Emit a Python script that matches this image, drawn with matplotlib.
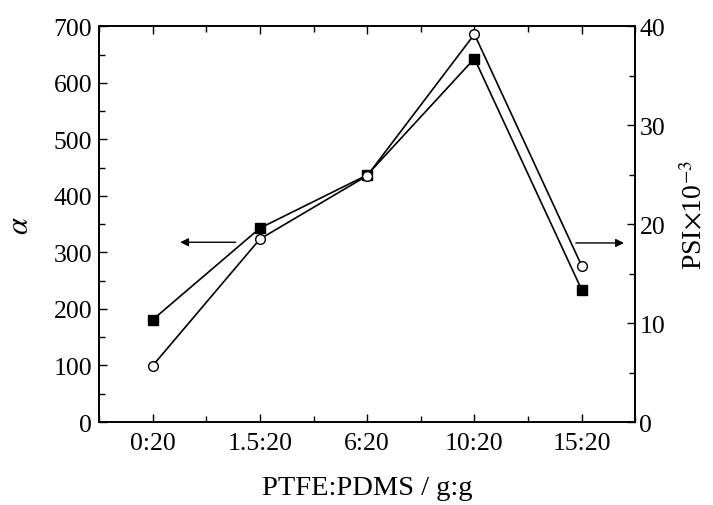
import numpy as np
import matplotlib.pyplot as plt
from matplotlib.ticker import MultipleLocator

plt.rcParams['font.family'] = ['Liberation Serif', 'DejaVu Serif']
plt.rcParams['mathtext.fontset'] = 'stix'

# PTFE:PDMS ratios, separation factor and pervaporation separation index
ratios = ['0:20', '1.5:20', '6:20', '10:20', '15:20']
alpha = [181, 343, 437, 643, 234]
psi = [5.7, 18.5, 24.9, 39.2, 15.8]

x = np.arange(len(ratios))

fig = plt.figure(figsize=(7.13, 5.06), dpi=100)
ax = fig.add_axes([0.139, 0.164, 0.752, 0.782])
ax2 = ax.twinx()

ax.plot(x, alpha, color='black', lw=1.2, marker='s', ms=7,
        mfc='black', mec='black', zorder=3)
ax2.plot(x, psi, color='black', lw=1.2, marker='o', ms=7,
         mfc='white', mec='black', mew=1.0, zorder=3)

ax.set_xlim(-0.5, 4.5)
ax.set_ylim(0, 700)
ax2.set_ylim(0, 40)

ax.set_xticks(x)
ax.set_xticklabels(ratios)
ax.xaxis.set_minor_locator(MultipleLocator(0.5))
ax.yaxis.set_major_locator(MultipleLocator(100))
ax.yaxis.set_minor_locator(MultipleLocator(50))
ax2.yaxis.set_major_locator(MultipleLocator(10))
ax2.yaxis.set_minor_locator(MultipleLocator(5))

fs = 18.5
ax.tick_params(axis='x', which='both', direction='in', top=True, labelsize=fs, pad=7)
ax.tick_params(axis='y', which='both', direction='in', right=False, labelsize=fs, pad=5)
ax.tick_params(which='major', length=6, width=1)
ax.tick_params(which='minor', length=4, width=1)
ax2.tick_params(axis='y', which='both', direction='in', labelsize=fs, pad=3)
ax2.tick_params(which='major', length=6, width=1)
ax2.tick_params(which='minor', length=4, width=1)

for a in (ax, ax2):
    for s in a.spines.values():
        s.set_linewidth(1.2)

ax.set_xlabel('PTFE:PDMS / g:g', fontsize=20.5)
ax.set_ylabel(r'$\alpha$', fontsize=22)
ax2.set_ylabel(r'PSI$\times$10$^{-3}$', fontsize=20)
ax.xaxis.set_label_coords(0.5, -0.135)
ax.yaxis.set_label_coords(-0.12, 0.5)
ax2.yaxis.set_label_coords(1.085, 0.525)

# arrows pointing each curve to its axis
ax.annotate('', xy=(0.23, 318), xytext=(0.8, 318),
            arrowprops=dict(arrowstyle='-|>', color='black', lw=1.0,
                            mutation_scale=12))
ax2.annotate('', xy=(4.42, 18.1), xytext=(3.92, 18.1),
             arrowprops=dict(arrowstyle='-|>', color='black', lw=1.0,
                             mutation_scale=12))

fig.savefig('out.png', dpi=100)
